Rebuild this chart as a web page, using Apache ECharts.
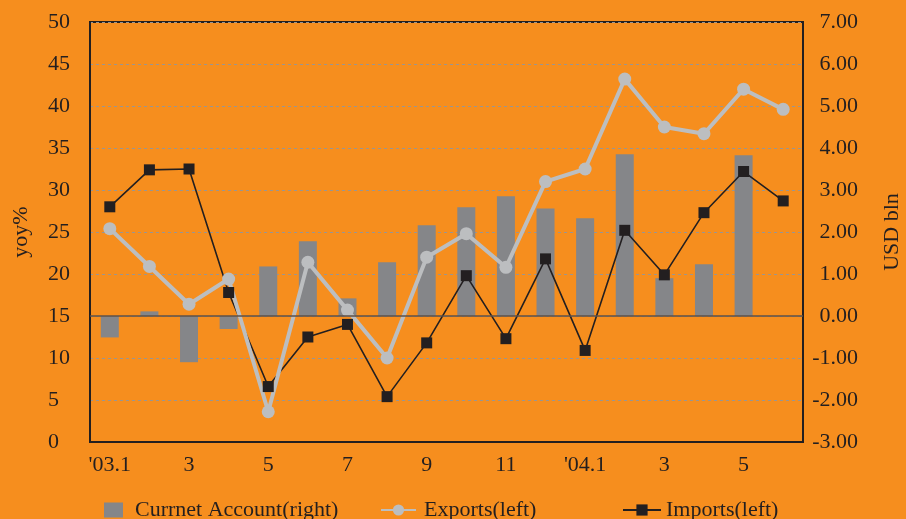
<!DOCTYPE html>
<html><head><meta charset="utf-8">
<script src="https://cdn.jsdelivr.net/npm/echarts@6/dist/echarts.min.js"></script>
<style>html,body{margin:0;padding:0;background:#F68E1E;}#c{width:906px;height:519px;}</style>
</head><body><div id="c"></div>
<script>
const categories = ["'03.1","2","3","4","5","6","7","8","9","10","11","12","'04.1","2","3","4","5","6"];
const currentAccount = [-0.51,0.11,-1.10,-0.31,1.18,1.78,0.42,1.28,2.16,2.59,2.85,2.56,2.33,3.85,0.90,1.23,3.83,null];
const exportsYoy = [25.4,20.9,16.4,19.4,3.6,21.4,15.7,10.0,22.0,24.8,20.8,31.0,32.5,43.2,37.5,36.7,42.0,39.6];
const importsYoy = [28.0,32.4,32.5,17.8,6.6,12.5,14.0,5.4,11.8,19.8,12.3,21.8,10.9,25.2,19.9,27.3,32.2,28.7];
const leftTicks = {min:0,max:50,interval:5};
const rightTicks = {min:-3,max:7,interval:1};

const FONT = 'Liberation Serif';
const FS = 22;
const TXT = '#231F20';
const chart = echarts.init(document.getElementById('c'));
const legendText = (pl)=>({fontFamily:FONT,fontSize:FS,color:TXT,padding:[0,0,0,pl]});
chart.setOption({
  backgroundColor:'#F68E1E',
  animation:false,
  grid:{left:90,right:103,top:22,bottom:77,show:true,borderColor:TXT,borderWidth:2,backgroundColor:'transparent',outerBoundsMode:'none',containLabel:false},
  legend:[
    {data:['Currnet Account(right)'],left:104,top:499,padding:0,itemWidth:19,itemHeight:15,textStyle:legendText(7),icon:'rect'},
    {data:['Exports(left)'],left:380,top:499,padding:0,itemWidth:35,itemHeight:14,textStyle:legendText(3)},
    {data:['Imports(left)'],left:622,top:499,padding:0,itemWidth:38,itemHeight:14,textStyle:legendText(0)}
  ],
  xAxis:{type:'category',data:categories,boundaryGap:true,
    axisLine:{lineStyle:{color:TXT,width:2}},
    axisTick:{inside:true,length:7,interval:0,lineStyle:{color:TXT,width:1}},
    axisLabel:{interval:1,fontFamily:FONT,fontSize:FS,color:TXT,margin:12}},
  yAxis:[
    {type:'value',min:leftTicks.min,max:leftTicks.max,interval:leftTicks.interval,position:'left',
     name:'yoy%',nameLocation:'middle',nameGap:58,nameRotate:90,nameTextStyle:{fontFamily:FONT,fontSize:FS,color:TXT},
     axisLine:{show:true,lineStyle:{color:TXT,width:2}},axisTick:{show:false},
     axisLabel:{fontFamily:FONT,fontSize:FS,color:TXT,align:'left',margin:42},
     splitLine:{show:true,lineStyle:{color:'#9b9590',type:[3,3],width:1}}},
    {type:'value',min:rightTicks.min,max:rightTicks.max,interval:rightTicks.interval,position:'right',
     name:'USD bln',nameLocation:'middle',nameGap:78,nameRotate:90,nameTextStyle:{fontFamily:FONT,fontSize:FS,color:TXT},
     axisLine:{show:true,lineStyle:{color:TXT,width:2}},axisTick:{show:false},
     axisLabel:{fontFamily:FONT,fontSize:FS,color:TXT,align:'right',margin:55,formatter:v=>v.toFixed(2)},
     splitLine:{show:false}}
  ],
  series:[
    {name:'Currnet Account(right)',type:'bar',yAxisIndex:1,data:currentAccount,barWidth:18,
     itemStyle:{color:'#858689'},
     markLine:{silent:true,symbol:'none',label:{show:false},lineStyle:{color:'#5e5048',width:1.5,type:'solid'},data:[{yAxis:0}]}},
    {name:'Imports(left)',type:'line',yAxisIndex:0,data:importsYoy,symbol:'rect',symbolSize:11,
     lineStyle:{color:TXT,width:1.6},itemStyle:{color:TXT}},
    {name:'Exports(left)',type:'line',yAxisIndex:0,data:exportsYoy,symbol:'circle',symbolSize:13,
     lineStyle:{color:'#BCBEC0',width:4},itemStyle:{color:'#BCBEC0'}}
  ]
});
</script></body></html>
